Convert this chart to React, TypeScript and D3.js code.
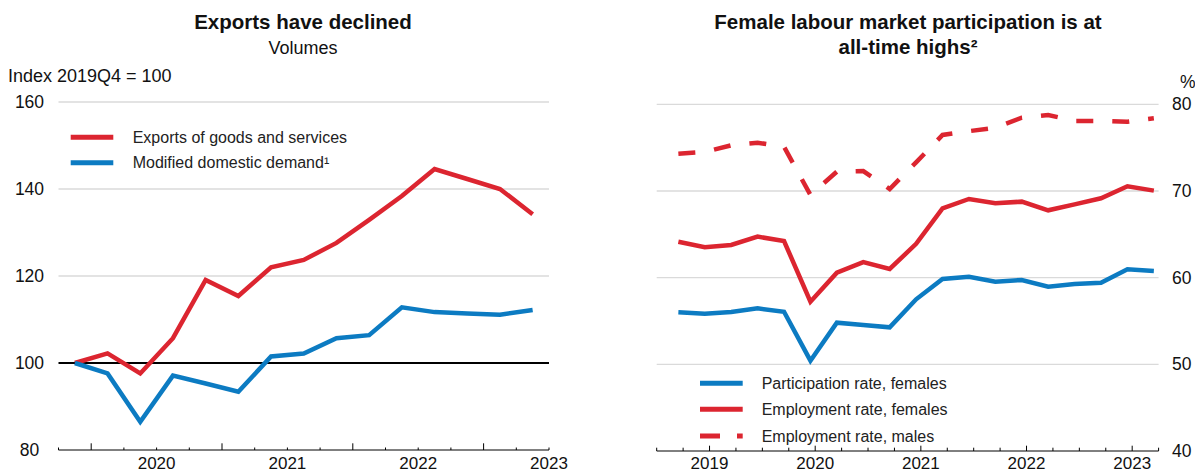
import React from "react";
import * as d3 from "d3";

// ---------- Data ----------
// Left panel: quarters 2019Q4 .. 2023Q2, index 2019Q4 = 100
const leftQuarters = ["2019Q4","2020Q1","2020Q2","2020Q3","2020Q4","2021Q1","2021Q2","2021Q3","2021Q4","2022Q1","2022Q2","2022Q3","2022Q4","2023Q1","2023Q2"];
const exportsIdx = [100, 102.2, 97.6, 105.7, 119.1, 115.4, 122.0, 123.7, 127.6, 132.9, 138.4, 144.6, 142.3, 140.0, 134.2];
const mddIdx = [100, 97.6, 86.5, 97.1, 95.3, 93.4, 101.5, 102.2, 105.7, 106.4, 112.8, 111.7, 111.4, 111.1, 112.2];
const leftYearLabels = ["2020", "2021", "2022", "2023"];
const leftYTicks = [80, 100, 120, 140, 160];

// Right panel: quarters 2019Q1 .. 2023Q3, %
const rightQuarters = ["2019Q1","2019Q2","2019Q3","2019Q4","2020Q1","2020Q2","2020Q3","2020Q4","2021Q1","2021Q2","2021Q3","2021Q4","2022Q1","2022Q2","2022Q3","2022Q4","2023Q1","2023Q2","2023Q3"];
const partFemales = [56.0, 55.84, 56.04, 56.46, 56.07, 50.42, 54.8, 54.54, 54.27, 57.5, 59.85, 60.1, 59.54, 59.73, 58.96, 59.27, 59.42, 60.96, 60.77];
const empFemales = [64.15, 63.5, 63.77, 64.73, 64.23, 57.23, 60.57, 61.8, 61.0, 63.9, 68.0, 69.08, 68.58, 68.77, 67.77, 68.46, 69.16, 70.54, 70.04];
const empMales = [74.3, 74.5, 75.27, 75.57, 75.1, 69.54, 72.23, 72.3, 70.23, 73.3, 76.46, 76.9, 77.3, 78.46, 78.77, 78.08, 78.08, 78.0, 78.38];
const rightYearLabels = ["2019", "2020", "2021", "2022", "2023"];
const rightYTicks = [40, 50, 60, 70, 80];

const RED = "#dc2530";
const BLUE = "#0c7bc2";
const GRID = "#dadada";
const FONT = "'Liberation Sans', Arial, Helvetica, sans-serif";

export default function App() {
  // Left scales
  const xL = d3.scaleLinear().domain([0, leftQuarters.length]).range([58.5, 549]);
  const yL = d3.scaleLinear().domain([80, 160]).range([450, 102]);
  const lineL = d3
    .line<number>()
    .x((_, i) => xL(i + 0.5))
    .y((d) => yL(d));

  // Right scales
  const xR = d3.scaleLinear().domain([0, rightQuarters.length]).range([656.7, 1158.6]);
  const yR = d3.scaleLinear().domain([40, 80]).range([451, 104.3]);
  const lineR = d3
    .line<number>()
    .x((_, i) => xR(i + 0.82))
    .y((d) => yR(d));

  const leftTicks = d3.range(0, leftQuarters.length + 1);
  const rightTicks = d3.range(0, rightQuarters.length + 1);

  return (
    <svg
      width={1195}
      height={473}
      style={{ position: "absolute", left: 0, top: 0, background: "#fff" }}
      fontFamily={FONT}
    >
      {/* ---------- Left panel ---------- */}
      <text x={303} y={29} textAnchor="middle" fontSize={20.5} fontWeight="bold" fill="#111">
        Exports have declined
      </text>
      <text x={303} y={54} textAnchor="middle" fontSize={18} fill="#111">
        Volumes
      </text>
      <text x={8} y={82} fontSize={18} fill="#111">
        Index 2019Q4 = 100
      </text>

      {leftYTicks.map((t) => (
        <g key={"ly" + t}>
          {t !== 80 && t !== 100 && (
            <line x1={xL(0)} x2={xL(leftQuarters.length)} y1={yL(t)} y2={yL(t)} stroke={GRID} strokeWidth={1.3} />
          )}
          <text x={29.5} y={yL(t) + 6} textAnchor="middle" fontSize={17.5} fill="#111">
            {t}
          </text>
        </g>
      ))}
      <line x1={xL(0)} x2={xL(leftQuarters.length)} y1={yL(100)} y2={yL(100)} stroke="#000" strokeWidth={2} />

      {/* left x axis */}
      <line x1={xL(0)} x2={xL(leftQuarters.length)} y1={450} y2={450} stroke="#000" strokeWidth={1} />
      {leftTicks.map((i) => {
        const major = i % 4 === 1;
        return (
          <line key={"lt" + i} x1={xL(i)} x2={xL(i)} y1={450} y2={major ? 443.3 : 447.5} stroke="#000" strokeWidth={1} />
        );
      })}
      {leftYearLabels.map((lab, k) => (
        <text key={lab} x={xL(3 + 4 * k)} y={469} textAnchor="middle" fontSize={17} fill="#111">
          {lab}
        </text>
      ))}

      <path d={lineL(exportsIdx) || ""} fill="none" stroke={RED} strokeWidth={4.5} strokeLinejoin="miter" />
      <path d={lineL(mddIdx) || ""} fill="none" stroke={BLUE} strokeWidth={4.5} strokeLinejoin="miter" />

      {/* left legend */}
      <line x1={70.7} x2={113.3} y1={137.3} y2={137.3} stroke={RED} strokeWidth={5} />
      <text x={132.7} y={143} fontSize={16} fill="#222">
        Exports of goods and services
      </text>
      <line x1={70.7} x2={113.3} y1={162.7} y2={162.7} stroke={BLUE} strokeWidth={5} />
      <text x={132.7} y={168.4} fontSize={16} fill="#222">
        Modified domestic demand¹
      </text>

      {/* ---------- Right panel ---------- */}
      <text x={908} y={29} textAnchor="middle" fontSize={20.5} fontWeight="bold" fill="#111">
        Female labour market participation is at
      </text>
      <text x={908} y={54} textAnchor="middle" fontSize={20.5} fontWeight="bold" fill="#111">
        all-time highs²
      </text>
      <text x={1180} y={88} fontSize={17.5} fill="#111">
        %
      </text>

      {rightYTicks.map((t) => (
        <g key={"ry" + t}>
          {t !== 40 && (
            <line x1={xR(0)} x2={xR(rightQuarters.length)} y1={yR(t)} y2={yR(t)} stroke={GRID} strokeWidth={1.3} />
          )}
          <text x={1172} y={yR(t) + 6} fontSize={17.5} fill="#111">
            {t}
          </text>
        </g>
      ))}

      <line x1={xR(0)} x2={xR(rightQuarters.length)} y1={451} y2={451} stroke="#000" strokeWidth={1} />
      {rightTicks.map((i) => {
        const major = i % 4 === 2;
        return (
          <line key={"rt" + i} x1={xR(i)} x2={xR(i)} y1={451} y2={major ? 445.7 : 447.7} stroke="#000" strokeWidth={1} />
        );
      })}
      {rightYearLabels.map((lab, k) => (
        <text key={lab} x={xR(2 + 4 * k)} y={469} textAnchor="middle" fontSize={17} fill="#111">
          {lab}
        </text>
      ))}

      <path d={lineR(partFemales) || ""} fill="none" stroke={BLUE} strokeWidth={4.5} />
      <path d={lineR(empFemales) || ""} fill="none" stroke={RED} strokeWidth={4.5} />
      <path d={lineR(empMales) || ""} fill="none" stroke={RED} strokeWidth={4.5} strokeDasharray="17,19" />

      {/* right legend */}
      <line x1={700} x2={742.7} y1={383.3} y2={383.3} stroke={BLUE} strokeWidth={5} />
      <text x={761.7} y={389} fontSize={16} fill="#222">
        Participation rate, females
      </text>
      <line x1={700} x2={742.7} y1={409.3} y2={409.3} stroke={RED} strokeWidth={5} />
      <text x={761.7} y={415} fontSize={16} fill="#222">
        Employment rate, females
      </text>
      <line x1={700} x2={742.7} y1={436} y2={436} stroke={RED} strokeWidth={5} strokeDasharray="20,17" />
      <text x={761.7} y={441.7} fontSize={16} fill="#222">
        Employment rate, males
      </text>
    </svg>
  );
}
